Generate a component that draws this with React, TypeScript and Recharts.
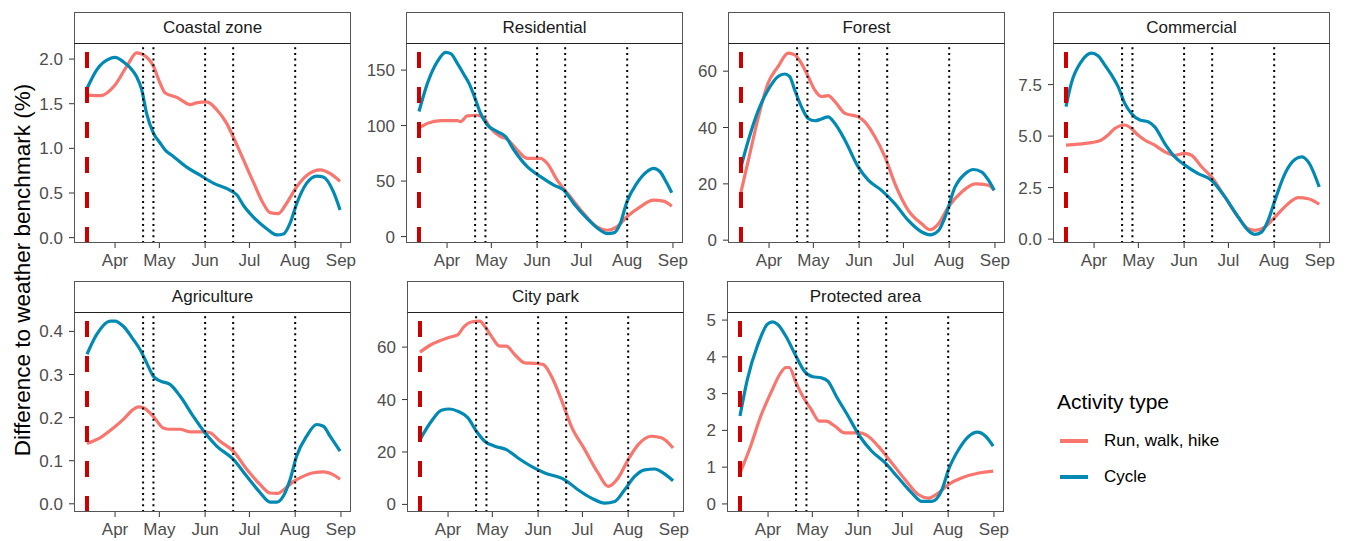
import React from 'react';
import { LineChart, Line, XAxis, YAxis, ReferenceLine } from 'recharts';

// x values are days counted from 1 March (Apr 1 = 31, Sep 1 = 184)
const monthTicks = [31, 61, 92, 122, 153, 184];
const monthLabels = ['Apr', 'May', 'Jun', 'Jul', 'Aug', 'Sep'];
const startDay = 12;
const eventDays = [50, 57, 92, 111, 153];

const coastalRun = [[12,1.60],[21,1.59],[31,1.71],[39,1.92],[45.7,2.07],[50,2.05],[57,1.92],[61.5,1.73],[65,1.62],[73,1.57],[82,1.49],[86,1.51],[93,1.52],[100,1.43],[106.6,1.28],[111,1.13],[118,0.87],[125,0.61],[131.5,0.38],[136,0.28],[141.6,0.27],[147,0.38],[154,0.57],[161,0.70],[170,0.76],[176.6,0.72],[183.4,0.63]];
const coastalCycle = [[12,1.67],[18.6,1.88],[28,2.01],[31,2.02],[36.6,1.97],[43.4,1.86],[45.7,1.80],[49,1.66],[52.4,1.39],[57,1.17],[61.5,1.06],[65,0.98],[70.5,0.91],[79.5,0.79],[88.6,0.70],[97.6,0.61],[109,0.53],[113.4,0.48],[118,0.36],[124.7,0.23],[133.7,0.10],[140.5,0.03],[145,0.04],[149.5,0.16],[154,0.38],[160.8,0.61],[167.6,0.69],[172,0.68],[179,0.51],[183.4,0.31]];

const residentialRun = [[12,97.6],[17.7,102],[26.7,104.5],[38,104.5],[40.2,103.6],[44.7,108.7],[51.5,109.3],[56,106.6],[60.5,97.6],[67.3,90],[71.8,87.7],[78.5,78],[85.3,70.5],[94.3,70.5],[98.8,66],[105.5,51],[114.5,35.8],[123.6,20.8],[132.6,8.7],[139.3,5.7],[146,8.7],[152.8,17.8],[161.8,26.8],[170.8,32.8],[177.6,31.9],[183.2,27.4]];
const residentialCycle = [[12,112.7],[17.7,138],[24.5,157.8],[30.1,166],[33.5,164.8],[38,156],[42.5,145.8],[45.9,138],[50.4,123],[53.7,111],[58.3,100.6],[65,94.6],[70.6,90],[76.3,78],[85.3,63],[94.3,54],[103.3,46.4],[110,41.9],[116.8,29.8],[125.8,16.3],[134.8,5.7],[139.3,2.7],[143.8,3.3],[148.3,11.7],[152.8,31.3],[159.5,47.9],[166.3,58.4],[170.8,61.4],[175.3,58.4],[178.7,50.9],[183.2,39.5]];

const forestRun = [[12,17.1],[17,28.4],[23.8,43.8],[30.3,55.7],[37.1,61.6],[44,66.4],[48.4,65.8],[52.9,62.8],[57.5,58.1],[62,53.3],[66.5,51],[71,51.3],[75.6,49.2],[82.4,45],[91.4,43.8],[95.9,42],[102.7,36.7],[109.5,29.6],[116.3,20],[125.3,10.6],[134.4,5.8],[140,3.7],[145.7,5.8],[152.5,11.8],[161.5,17.1],[170.6,20],[179.6,19.5],[183.5,17.7]];
const forestCycle = [[12,26],[17,35.5],[23.8,46.2],[30.3,53.3],[37.1,58.1],[41.6,59],[45,58.1],[48.4,53.3],[52.9,47.4],[57.5,43.2],[62,42.4],[66.5,43],[71,43.8],[75.6,41.4],[82.4,35.5],[91.4,26],[98.2,21.3],[107.2,17.7],[116.3,12.9],[125.3,7],[134.4,2.9],[140,1.9],[145.7,3.4],[150.2,8.2],[157,18.9],[163.8,23.6],[169.5,25.1],[175.1,24.2],[179.6,21.3],[183.5,17.7]];

const commercialRun = [[12,4.56],[20.2,4.61],[29.2,4.68],[36,4.81],[40.5,5.05],[45,5.37],[51.8,5.54],[56.3,5.37],[60.8,5.05],[65.3,4.81],[72.1,4.56],[78.9,4.24],[85.7,4.07],[92.5,4.16],[97,4.07],[103.8,3.51],[110.5,3.02],[119.6,2.05],[128.6,1.07],[135.4,0.50],[139.9,0.42],[146.7,0.58],[153.5,1.07],[162.5,1.72],[169.3,2.01],[176.1,1.96],[183.5,1.69]];
const commercialCycle = [[12,6.43],[15.6,7.56],[22.4,8.62],[29.2,9.03],[33.7,8.9],[38.2,8.46],[42.8,7.97],[47.3,7.4],[51.8,6.59],[56.3,6.1],[62,5.78],[67.6,5.7],[72.1,5.45],[78.9,4.64],[85.7,3.99],[92.5,3.59],[101.5,3.18],[110.5,2.86],[119.6,2.05],[128.6,1.07],[135.4,0.42],[139.9,0.23],[144.4,0.34],[148.9,0.91],[153.5,1.88],[160.3,3.18],[167,3.86],[171.6,3.99],[176.1,3.75],[183.5,2.53]];

const agricultureRun = [[12,0.140],[20.8,0.153],[29.9,0.176],[36.6,0.196],[43.4,0.219],[46.8,0.225],[50.2,0.223],[56.9,0.203],[63.7,0.176],[68.2,0.173],[75,0.173],[81.8,0.167],[90.8,0.167],[95.3,0.165],[102.1,0.145],[111.1,0.122],[120.2,0.080],[129.2,0.045],[136,0.025],[141,0.024],[147,0.038],[152,0.052],[158,0.063],[165.3,0.072],[172.1,0.074],[178.9,0.067],[183.4,0.057]];
const agricultureCycle = [[12,0.347],[18.6,0.393],[27.6,0.424],[31,0.424],[36.6,0.412],[43.4,0.381],[47.9,0.358],[52.4,0.327],[56.9,0.296],[61.5,0.285],[68.2,0.277],[75,0.25],[84,0.203],[91.9,0.165],[99.8,0.134],[111.1,0.103],[120.2,0.064],[129.2,0.026],[136,0.004],[140.5,0.004],[145,0.018],[149.5,0.056],[154,0.111],[160.8,0.157],[167.6,0.184],[172.1,0.180],[176.6,0.157],[183.4,0.122]];

const cityParkRun = [[12,58.1],[19.7,61],[31,63.6],[37.8,64.8],[41.2,67.4],[46.8,69.6],[52.4,69.9],[55.8,68],[60.3,64.2],[65.9,60.4],[70.5,60.4],[76.1,57.2],[82.9,54],[89.7,53.8],[95.3,53.4],[101,48.9],[107.7,40],[114.5,29.8],[123.6,20.9],[132.6,12],[139.4,6.9],[146.2,10.1],[153,17.1],[159.8,22.8],[168.8,26],[175.5,25.4],[183.4,21.5]];
const cityParkCycle = [[12,24.7],[19.7,31.7],[26.5,35.9],[32.1,36.4],[37.8,35.5],[44.5,33],[50.2,27.9],[55.8,24.1],[62.6,22.2],[70.5,20.9],[78.4,17.7],[87.4,14.5],[96.5,12],[110,9.4],[119,5.6],[128.1,2.4],[137.1,0.5],[143.9,1.1],[150.6,5.6],[157.4,10.7],[164.2,13.2],[170.9,13.5],[176.6,12],[183.4,9]];

const protectedRun = [[12,0.84],[19.2,1.57],[26.1,2.39],[32.9,3.02],[39.7,3.57],[43.1,3.71],[45.4,3.71],[49.9,3.30],[54.5,2.93],[60.2,2.57],[65.8,2.25],[70.4,2.25],[76.1,2.12],[82.9,1.93],[93.1,1.93],[98.8,1.84],[105.6,1.57],[114.7,1.12],[123.8,0.66],[132.9,0.25],[139.7,0.16],[146.5,0.30],[153.3,0.53],[162.4,0.71],[173.8,0.84],[183.5,0.89]];
const protectedCycle = [[12,2.39],[17,3.39],[23.8,4.30],[30.6,4.89],[34,4.95],[37.4,4.89],[44.2,4.48],[49.9,4.02],[55.6,3.61],[61.3,3.46],[67,3.43],[71.5,3.34],[77.2,2.93],[85.2,2.39],[93.1,1.84],[101.1,1.44],[110.2,1.12],[119.2,0.71],[128.3,0.30],[135.2,0.07],[142,0.07],[148.8,0.39],[153.3,0.94],[160.1,1.48],[167,1.84],[172.7,1.95],[178.3,1.84],[183.5,1.57]];

const RUN_COLOR = '#F8766D';
const CYCLE_COLOR = '#0089B3';
const FONT = '"Liberation Sans", Arial, sans-serif';

const PANEL_W = 277;
const PLOT_H = 200;
const STRIP_H = 31;
const AXIS_W = 60;
const XAXIS_H = 40;
const RIGHT_PAD = 24;
const X_DOMAIN: [number, number] = [3.2, 190.8];

const toRows = (pts: number[][]) => pts.map(([day, v]) => ({ day, v }));

type PanelProps = {
  title: string;
  left: number;
  top: number;
  yDomain: [number, number];
  yTicks: number[];
  decimals: number;
  run: number[][];
  cycle: number[][];
};

const Panel = ({ title, left, top, yDomain, yTicks, decimals, run, cycle }: PanelProps) => {
  const plotTop = top + STRIP_H;
  const [lo, hi] = yDomain;
  return (
    <>
      <div
        style={{
          position: 'absolute', left, top, width: PANEL_W, height: STRIP_H,
          boxSizing: 'border-box', border: '1px solid #555', borderBottom: 'none',
          background: '#fff', display: 'flex', alignItems: 'center', justifyContent: 'center',
          fontSize: 17, color: '#1a1a1a',
        }}
      >
        {title}
      </div>
      <div style={{ position: 'absolute', left: left - AXIS_W, top: plotTop }}>
        <LineChart
          width={AXIS_W + PANEL_W + RIGHT_PAD}
          height={PLOT_H + XAXIS_H}
          margin={{ top: 0, right: RIGHT_PAD, bottom: 0, left: 0 }}
        >
          <XAxis
            type="number"
            dataKey="day"
            domain={X_DOMAIN}
            allowDataOverflow
            ticks={monthTicks}
            tickFormatter={(d: number) => monthLabels[monthTicks.indexOf(d)]}
            height={XAXIS_H}
            axisLine={false}
            tickSize={5}
            tickMargin={6}
            tickLine={{ stroke: '#333' }}
            tick={{ fill: '#4d4d4d', fontSize: 17, fontFamily: FONT }}
            interval={0}
          />
          <YAxis
            type="number"
            domain={yDomain}
            allowDataOverflow
            ticks={yTicks}
            tickFormatter={(v: number) => v.toFixed(decimals)}
            width={AXIS_W}
            axisLine={false}
            tickSize={5}
            tickMargin={6}
            tickLine={{ stroke: '#333' }}
            tick={{ fill: '#4d4d4d', fontSize: 17, fontFamily: FONT }}
            interval={0}
          />
          <Line data={toRows(run)} dataKey="v" type="monotone" stroke={RUN_COLOR} strokeWidth={3.2} dot={false} isAnimationActive={false} />
          <Line data={toRows(cycle)} dataKey="v" type="monotone" stroke={CYCLE_COLOR} strokeWidth={3.2} dot={false} isAnimationActive={false} />
          {eventDays.map((d) => (
            <ReferenceLine
              key={d}
              segment={[{ x: d, y: lo }, { x: d, y: hi }]}
              stroke="#000"
              strokeWidth={2}
              strokeDasharray="2 3.7"
            />
          ))}
          <ReferenceLine
            segment={[{ x: startDay, y: lo }, { x: startDay, y: hi }]}
            stroke="#CC0000"
            strokeWidth={4}
            strokeDasharray="16 19"
          />
        </LineChart>
      </div>
      <div
        style={{
          position: 'absolute', left, top: plotTop, width: PANEL_W, height: PLOT_H,
          boxSizing: 'border-box', border: '1px solid #555', borderTop: '1.5px solid #222',
          pointerEvents: 'none',
        }}
      />
    </>
  );
};

const ROW1 = 12;
const ROW2 = 281;

export default function App() {
  return (
    <div style={{ position: 'absolute', left: 0, top: 0, width: 1348, height: 541, background: '#fff', fontFamily: FONT, overflow: 'hidden' }}>
      <Panel title="Coastal zone" left={74} top={ROW1} yDomain={[-0.06, 2.18]} yTicks={[0, 0.5, 1, 1.5, 2]} decimals={1} run={coastalRun} cycle={coastalCycle} />
      <Panel title="Residential" left={406} top={ROW1} yDomain={[-5.8, 174.4]} yTicks={[0, 50, 100, 150]} decimals={0} run={residentialRun} cycle={residentialCycle} />
      <Panel title="Forest" left={728} top={ROW1} yDomain={[-1, 70]} yTicks={[0, 20, 40, 60]} decimals={0} run={forestRun} cycle={forestCycle} />
      <Panel title="Commercial" left={1053} top={ROW1} yDomain={[-0.19, 9.52]} yTicks={[0, 2.5, 5, 7.5]} decimals={1} run={commercialRun} cycle={commercialCycle} />
      <Panel title="Agriculture" left={74} top={ROW2} yDomain={[-0.019, 0.445]} yTicks={[0, 0.1, 0.2, 0.3, 0.4]} decimals={1} run={agricultureRun} cycle={agricultureCycle} />
      <Panel title="City park" left={407} top={ROW2} yDomain={[-2.9, 73.4]} yTicks={[0, 20, 40, 60]} decimals={0} run={cityParkRun} cycle={cityParkCycle} />
      <Panel title="Protected area" left={727} top={ROW2} yDomain={[-0.22, 5.22]} yTicks={[0, 1, 2, 3, 4, 5]} decimals={0} run={protectedRun} cycle={protectedCycle} />

      <div
        style={{
          position: 'absolute', left: 23, top: 270, transform: 'translate(-50%, -50%) rotate(-90deg)',
          whiteSpace: 'nowrap', fontSize: 22.5, color: '#000',
        }}
      >
        Difference to weather benchmark (%)
      </div>

      <div style={{ position: 'absolute', left: 1057, top: 390, fontSize: 21, color: '#000', whiteSpace: 'nowrap' }}>
        Activity type
      </div>
      {[
        { label: 'Run, walk, hike', color: RUN_COLOR, y: 441 },
        { label: 'Cycle', color: CYCLE_COLOR, y: 477 },
      ].map((item) => (
        <React.Fragment key={item.label}>
          <div style={{ position: 'absolute', left: 1060, top: item.y - 2, width: 28, height: 4, background: item.color }} />
          <div style={{ position: 'absolute', left: 1104, top: item.y - 11, fontSize: 17, lineHeight: '22px', color: '#000', whiteSpace: 'nowrap' }}>
            {item.label}
          </div>
        </React.Fragment>
      ))}
    </div>
  );
}
